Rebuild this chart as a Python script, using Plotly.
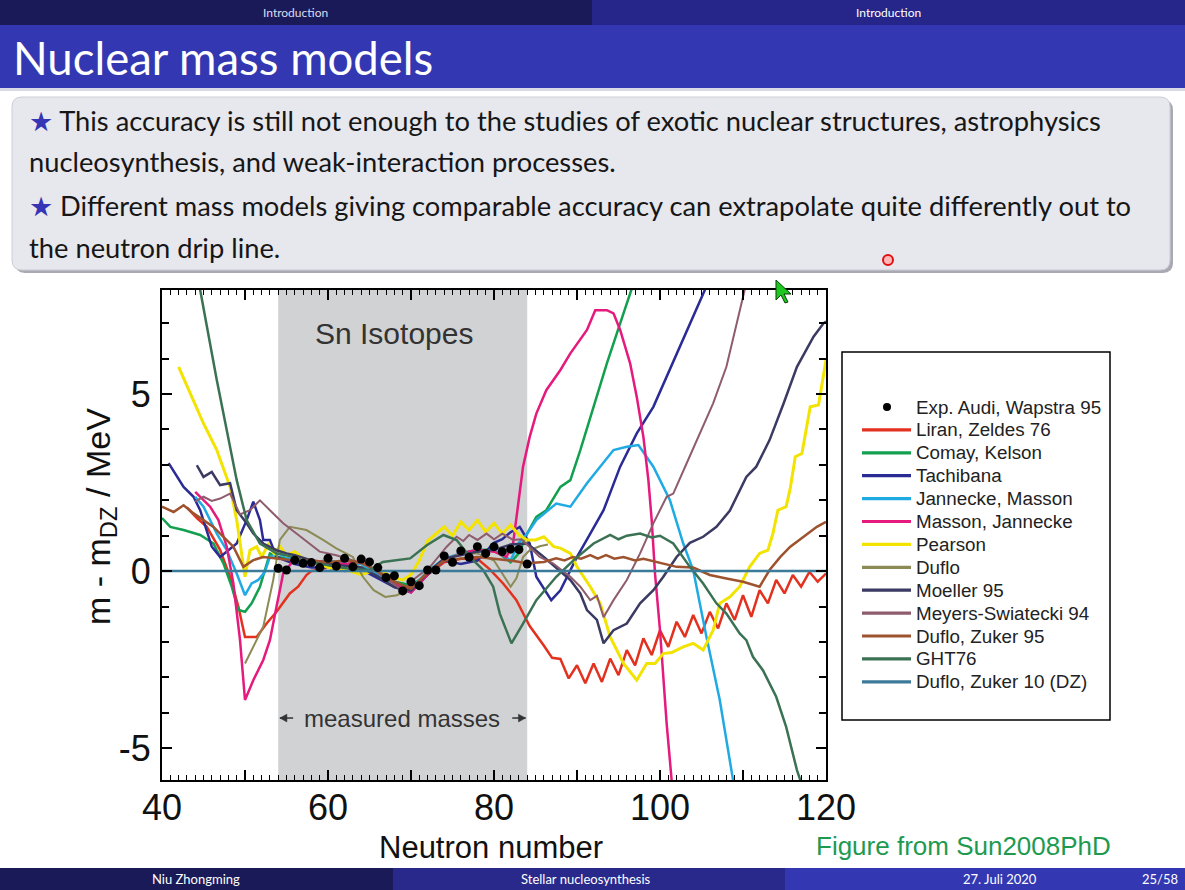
import plotly.graph_objects as go

W, H = 1185, 890

# ---------------- data (Sn isotopes, m - m_DZ in MeV) ----------------
EXP_N = [54, 55, 56, 57, 58, 59, 60, 61, 62, 63, 64, 65, 66, 67, 68, 69, 70, 71, 72, 73,
         74, 75, 76, 77, 78, 79, 80, 81, 82, 83, 84]
EXP_DM = [0.08, 0.03, 0.31, 0.22, 0.24, 0.10, 0.36, 0.14, 0.36, 0.12, 0.34, 0.26, 0.10, -0.18,
          -0.13, -0.56, -0.30, -0.41, 0.03, 0.03, 0.43, 0.25, 0.57, 0.39, 0.69, 0.50, 0.69, 0.55,
          0.62, 0.61, 0.20]

LIRAN = [(43, 1.8), (44.2, 1.5), (45.4, 1.25), (47, 0.6), (48.2, -0.16), (49.2, -1.0), (50, -1.86),
         (51.4, -1.86), (52.6, -1.48), (53.8, -1.15), (55.4, -0.63), (56.4, -0.44), (57.4, -0.11),
         (58, 0.0), (60, 0.1), (62, 0.2), (64, 0.1), (66, -0.05), (68, -0.3), (70, -0.45), (72, -0.1),
         (74, 0.25), (76, 0.35), (78, 0.35), (79.5, 0.05), (81.1, -0.35), (82.7, -0.82), (84.3, -1.55),
         (86, -2.1), (87, -2.45), (88, -2.48), (89, -3.03), (90, -2.66), (91, -3.17), (92, -2.61),
         (93, -3.13), (94, -2.47), (95, -2.94), (96, -2.23), (97, -2.66), (98, -1.90), (99, -2.37),
         (100, -1.67), (101, -2.14), (102, -1.43), (103, -1.86), (104, -1.24), (105, -1.76),
         (106, -1.15), (107, -1.62), (108, -0.91), (109, -1.38), (110, -0.68), (111, -1.29),
         (112, -0.54), (113, -0.91), (114, -0.25), (115, -0.63), (116, -0.11), (117, -0.44),
         (118, -0.02), (119, -0.30), (120, -0.07)]

COMAY = [(40, 1.5), (41, 1.25), (42.6, 1.16), (44.6, 1.02), (46.2, 0.78), (47.4, 0.22), (48.4, -0.44),
         (49.2, -1.1), (50, -1.15), (50.8, -0.91), (51.8, -0.44), (52.6, 0.22), (53, 0.5), (54, 0.4),
         (56, 0.3), (58, 0.25), (60, 0.3), (62, 0.2), (64, 0.1), (66, 0.0), (68, -0.3), (70, -0.4),
         (72, -0.1), (74, 0.3), (76, 0.5), (78, 0.6), (80, 0.6), (82, 0.25), (83, 0.5), (84, 1.06),
         (85.1, 1.53), (86.3, 1.72), (88, 2.38), (89.2, 2.57), (90.4, 3.42), (92, 4.64), (93.6, 5.87),
         (95.2, 7.0), (96.6, 7.94), (97.2, 8.4)]

TACHIBANA = [(40.8, 3.05), (42.6, 2.38), (43.8, 2.1), (44.6, 1.72), (46, 0.69), (47, 0.4), (48, 0.59),
             (49, 0.78), (50.2, 1.44), (51, 1.96), (51.8, 1.44), (52.2, 0.88), (53, 0.88), (53.8, 0.4),
             (56, 0.2), (58, 0.1), (60, 0.1), (62, 0.0), (64, 0.05), (66, -0.2), (68, -0.45),
             (70, -0.6), (72, -0.1), (74, 0.3), (76, 0.2), (78, 0.3), (80, 0.8), (81, 0.9), (82, 1.1),
             (83.1, 1.25), (84.3, 0.78), (85.1, -0.16), (86.9, -0.82), (88, -0.54), (90, 0.4),
             (91.6, 1.06), (93.2, 1.72), (95.2, 2.95), (97.2, 3.89), (99.2, 4.64), (100.8, 5.49),
             (102.4, 6.34), (104, 7.18), (105.4, 7.94), (106, 8.4)]

JANNECKE = [(44, 2.1), (45, 1.82), (46.6, 1.06), (47.8, 0.59), (49, -0.07), (50, -0.68), (50.8, -0.35),
            (51.6, -0.25), (52.4, -0.02), (53, 0.4), (54, 0.5), (56, 0.3), (58, 0.2), (60, 0.3),
            (62, 0.2), (64, 0.2), (66, -0.1), (68, -0.35), (70, -0.5), (72, 0.0), (74, 0.35),
            (76, 0.5), (78, 0.55), (80, 0.6), (82, 0.3), (83, 0.8), (84, 1.06), (85.1, 1.44),
            (87.5, 1.91), (89.2, 1.82), (91.2, 2.48), (92.8, 2.95), (94.4, 3.42), (96, 3.51),
            (97.4, 3.56), (99.2, 2.95), (101.2, 2.0), (102.8, 0.78), (104, 0.03), (105.6, -1.86),
            (107.2, -3.64), (108.8, -5.9), (109.2, -6.5)]

MASSON = [(44, 2.24), (45.8, 1.82), (46.8, 1.44), (47.8, 0.69), (48.6, -0.35), (49.4, -1.95),
          (50, -3.64), (51, -3.08), (52.2, -2.51), (53, -1.95), (53.8, -1.0), (54.6, -0.07),
          (56, 0.35), (58, 0.3), (60, 0.25), (62, 0.2), (64, 0.25), (66, 0.0), (68, -0.35),
          (70, -0.6), (72, -0.1), (74, 0.3), (76, 0.5), (78, 0.6), (80, 0.55), (81.5, 0.4),
          (82.3, 0.78), (82.9, 1.82), (83.5, 2.95), (84.3, 3.79), (85.1, 4.45), (86.3, 5.11),
          (88, 5.68), (89.2, 6.15), (90.4, 6.53), (91.2, 6.81), (92.2, 7.37), (93.6, 7.37),
          (94.4, 7.28), (95.2, 6.81), (96.4, 5.87), (97.2, 4.92), (98, 3.79), (98.6, 2.57),
          (99, 1.44), (99.4, -0.07), (100, -1.67), (100.8, -4.3), (101.4, -5.9), (101.6, -6.5)]

PEARSON = [(42, 5.77), (43.4, 5.02), (45, 4.17), (46.6, 3.42), (48.2, 2.38), (49, 1.44), (50, -0.16),
           (50.6, 0.59), (51.4, 0.69), (52, 0.4), (52.8, 0.75), (53.5, 0.5), (54.2, 0.7), (55, 0.45),
           (56, 0.55), (57, 0.36), (58, 0.3), (60, 0.1), (62, 0.05), (64, -0.1), (66, 0.05),
           (68, -0.2), (69, -0.25), (70, -0.1), (71, 0.3), (72, 0.85), (73, 1.06), (74, 1.25),
           (75, 1.0), (76, 1.39), (77, 1.16), (78, 1.44), (79, 1.11), (80, 1.35), (81, 1.06),
           (82, 1.3), (83, 1.02), (84, 0.88), (85, 0.88), (86, 0.97), (87.2, 0.69), (88, 0.65),
           (89.2, 0.5), (90, 0.12), (90.8, -0.16), (91.6, -0.44), (92.8, -0.91), (94, -1.86),
           (95.6, -2.61), (97.2, -3.08), (98.4, -2.61), (99.4, -2.61), (100.4, -2.33), (101.4, -2.3),
           (102.8, -2.14), (104, -2.04), (105.2, -2.23), (106.4, -1.67), (107.2, -0.91),
           (108.4, -0.73), (109.6, -0.44), (110.8, 0.12), (112, 0.5), (113, 0.59), (113.6, 1.06),
           (114.2, 1.72), (115.2, 1.82), (115.7, 2.35), (116.3, 3.23), (117.1, 3.32), (118.1, 4.64),
           (119.1, 4.69), (120, 5.96)]

DUFLO = [(50, -2.61), (51, -2.14), (52.2, -1.57), (53.4, -0.25), (54.2, 0.88), (55.4, 1.25),
         (57.4, 1.16), (59.4, 0.88), (61, 0.64), (63, 0.4), (64.2, -0.16), (65.5, -0.54),
         (66.9, -0.73), (68.3, -0.68), (70.3, -0.44), (72, 0.0), (74, 0.3), (76, 0.5), (78, 0.5),
         (80, 0.3), (80.7, 0.03), (82, -0.44), (82.7, -0.2), (83.5, 0.4), (84.3, 0.59), (85.5, 0.7),
         (86.5, 0.75)]

MOELLER = [(44.2, 2.99), (45, 2.66), (46, 2.8), (47, 2.43), (48.2, 2.48), (49, 1.72), (50.2, 1.35),
           (51, 1.06), (52.2, 0.78), (53.8, 0.59), (55, 0.5), (56, 0.45), (58, 0.3), (60, 0.2),
           (62, 0.15), (64, 0.1), (66, -0.15), (68, -0.45), (70, -0.55), (72, -0.05), (74, 0.35),
           (76, 0.45), (78, 0.55), (80, 0.6), (82, 0.75), (84, 0.78), (86, 0.4), (89.2, -0.25),
           (90.4, -0.63), (91.2, -1.1), (92.4, -1.38), (93.2, -2.04), (94.4, -1.67), (96, -1.48),
           (97.6, -0.91), (99.2, -0.54), (100.4, -0.16), (102, 0.4), (103.6, 0.8), (105.2, 0.97),
           (106.8, 1.25), (108.4, 1.7), (109.6, 2.29), (110.4, 2.66), (111.6, 2.95), (113.2, 3.7),
           (114.9, 4.74), (116.5, 5.77), (118.5, 6.62), (119.7, 7.0), (120, 7.05)]

MEYERS = [(44, 1.96), (45, 2.1), (46, 1.98), (47, 2.05), (48.2, 2.19), (49.4, 1.6), (50.6, 1.72),
          (51.8, 2.0), (53, 1.72), (54.6, 1.35), (56.2, 1.06), (57.8, 0.78), (59, 0.55), (61, 0.45),
          (63, 0.3), (65, 0.12), (67, -0.2), (69, -0.54), (70.5, -0.2), (72.3, 0.12), (74.3, 0.69),
          (75.5, 0.97), (76.3, 0.85), (77, 1.02), (78, 0.88), (79.1, 1.06), (80, 0.9), (81, 1.06),
          (82.3, 0.88), (83.3, 0.9), (84.7, 0.59), (85.5, 0.4), (87.1, 0.22), (89.2, -0.16),
          (90.4, -0.44), (91.6, -0.82), (92.4, -0.7), (93.2, -1.3), (94.4, -0.82), (96, -0.25),
          (97.6, 0.5), (99.2, 1.35), (100.8, 2.1), (101.6, 2.19), (103.2, 3.04), (104.8, 3.89),
          (106.4, 4.74), (108, 5.77), (109.2, 7.0), (110.2, 7.94), (110.5, 8.4)]

DZ95 = [(40, 1.82), (41.4, 1.67), (42.6, 1.86), (43.8, 1.63), (45, 1.44), (46.2, 1.25), (47.4, 0.97),
        (48.6, 0.69), (49.8, 0.12), (51, 0.31), (52.2, 0.4), (54, 0.35), (56, 0.3), (58, 0.3),
        (60, 0.25), (62, 0.3), (64, 0.25), (66, 0.0), (68, -0.3), (70, -0.5), (72, -0.05), (74, 0.3),
        (76, 0.35), (78, 0.4), (80, 0.35), (82, 0.3), (84, 0.22), (86, 0.26), (87.5, 0.36),
        (88.5, 0.3), (89.5, 0.4), (90.5, 0.35), (91.6, 0.45), (92.5, 0.35), (93.5, 0.45),
        (94.5, 0.35), (95.6, 0.4), (97, 0.3), (98, 0.35), (99.6, 0.26), (102, 0.12), (104, 0.1),
        (106, -0.11), (108, -0.21), (110, -0.3), (112, -0.44), (113.2, 0.03), (114.5, 0.4),
        (115.7, 0.69), (117.3, 0.97), (118.9, 1.25), (120, 1.39)]

GHT76 = [(44, 9.0), (44.6, 7.94), (46.6, 5.4), (47.8, 3.98), (49, 2.57), (50.2, 1.44), (51.8, 0.78),
         (53.8, 0.5), (55, 0.45), (57, 0.3), (59, 0.2), (61, 0.12), (63, 0.05), (65, 0.03),
         (66.6, 0.26), (69.9, 0.36), (71.9, 0.73), (73.9, 1.02), (75.5, 0.88), (77.1, 0.4),
         (78.7, 0.03), (79.9, -0.44), (80.7, -1.2), (82.1, -2.04), (83.5, -1.48), (85.1, -0.82),
         (87.5, -0.16), (89.6, 0.31), (92, 0.78), (93, 0.9), (94, 1.02), (95, 0.9), (96, 1.0),
         (97.6, 1.06), (99, 0.95), (100, 1.0), (101.6, 0.78), (103.6, 0.12), (105.2, -0.35),
         (106.8, -0.91), (108, -1.2), (109.6, -1.76), (110.4, -1.95), (111.2, -2.42),
         (112.4, -2.8), (114, -3.55), (115.2, -4.4), (116.5, -5.62), (116.9, -5.9), (117.2, -6.5)]

DZ10 = [(40, 0.0), (120, 0.0)]

EXP_NAME = "Exp. Audi, Wapstra 95"
SERIES = [
    ("Liran, Zeldes 76", LIRAN, "#e3311f", 2.5),
    ("Comay, Kelson", COMAY, "#12a04e", 2.5),
    ("Tachibana", TACHIBANA, "#2b2b95", 2.5),
    ("Jannecke, Masson", JANNECKE, "#1faae3", 2.5),
    ("Masson, Jannecke", MASSON, "#e6197c", 2.5),
    ("Pearson", PEARSON, "#f3e300", 3.0),
    ("Duflo", DUFLO, "#8c8a55", 2.0),
    ("Moeller 95", MOELLER, "#3a3a62", 2.5),
    ("Meyers-Swiatecki 94", MEYERS, "#8e5c6c", 2.0),
    ("Duflo, Zuker 95", DZ95, "#9e522e", 2.5),
    ("GHT76", GHT76, "#3b7253", 2.5),
    ("Duflo, Zuker 10 (DZ)", DZ10, "#3b7a98", 2.5),
]

ARIAL = "Liberation Sans, Arial, sans-serif"
SLIDE = "Lato, Open Sans, sans-serif"


def P(x, y):
    return f"{x / W:.5f},{1 - y / H:.5f}"


def rrect(x0, y0, x1, y1, r):
    return ("M" + P(x0 + r, y0) + " L" + P(x1 - r, y0) + " Q" + P(x1, y0) + " " + P(x1, y0 + r) +
            " L" + P(x1, y1 - r) + " Q" + P(x1, y1) + " " + P(x1 - r, y1) +
            " L" + P(x0 + r, y1) + " Q" + P(x0, y1) + " " + P(x0, y1 - r) +
            " L" + P(x0, y0 + r) + " Q" + P(x0, y0) + " " + P(x0 + r, y0) + " Z")


fig = go.Figure()

for name, pts, color, width in SERIES:
    fig.add_trace(go.Scatter(
        x=[p[0] for p in pts], y=[p[1] for p in pts], mode="lines", name=name,
        line=dict(color=color, width=width)))

fig.add_trace(go.Scatter(
    x=EXP_N, y=EXP_DM, mode="markers", name=EXP_NAME,
    marker=dict(color="black", size=9)))

shapes = []
ann = []


def prect(x0, y0, x1, y1, color, layer="below"):
    shapes.append(dict(type="rect", xref="paper", yref="paper", x0=x0 / W, x1=x1 / W,
                       y0=1 - y1 / H, y1=1 - y0 / H, fillcolor=color, line=dict(width=0),
                       layer=layer))


def ptext(x, y, text, size, color, family=SLIDE, xanchor="center", **kw):
    ann.append(dict(xref="paper", yref="paper", x=x / W, y=1 - y / H, text=text, showarrow=False,
                    xanchor=xanchor, yanchor="middle", font=dict(size=size, color=color,
                                                                   family=family), **kw))


# header
prect(0, 0, 592, 25, "#1a1a58")
prect(592, 0, W, 25, "#25258a")
prect(0, 25, W, 88, "#3338b2")
prect(0, 88, W, 91, "#d9d9e6")
# footer
prect(0, 868, 393, H, "#1a1a58")
prect(393, 868, 785, H, "#29298c")
prect(785, 868, W, H, "#3338b2")

# text box with shadow
shapes.append(dict(type="path", xref="paper", yref="paper", path=rrect(15, 100, 1173, 273, 10),
                   fillcolor="#a9a9b3", line=dict(width=0), layer="below"))
shapes.append(dict(type="path", xref="paper", yref="paper", path=rrect(12, 97, 1170, 270, 10),
                   fillcolor="#e7e7ee", line=dict(color="#cdcdd6", width=1), layer="below"))

# shaded "measured masses" region
shapes.append(dict(type="rect", xref="x", yref="y domain", x0=54, x1=84, y0=0, y1=1,
                   fillcolor="#d1d2d4", line=dict(width=0), layer="below"))

# arrows of the "measured masses" label (line + filled head, in axis units)
ARROW_Y = -4.15
for head, tail, d in ((54.2, 55.8, 1), (83.8, 82.2, -1)):
    shapes.append(dict(type="line", xref="x", yref="y", x0=tail, x1=head, y0=ARROW_Y, y1=ARROW_Y,
                       line=dict(color="#333333", width=1.5), layer="above"))
    base = head + d * 0.85
    shapes.append(dict(type="path", xref="x", yref="y",
                       path=f"M{head},{ARROW_Y} L{base},{ARROW_Y + 0.11} L{base},{ARROW_Y - 0.11} Z",
                       fillcolor="#333333", line=dict(color="#333333", width=0.5), layer="above"))

# legend frame and entries (key drawn beside the plot, as in the original figure)
shapes.append(dict(type="rect", xref="paper", yref="paper", x0=842 / W, x1=1110 / W,
                   y0=1 - 720 / H, y1=1 - 352 / H, fillcolor="white",
                   line=dict(color="black", width=1.5), layer="below"))
LEG_Y0, LEG_DY = 407, 22.9
shapes.append(dict(type="circle", xref="paper", yref="paper", x0=883 / W, x1=891 / W,
                   y0=1 - (LEG_Y0 + 4) / H, y1=1 - (LEG_Y0 - 4) / H, fillcolor="black",
                   line=dict(width=0), layer="above"))
ptext(914, LEG_Y0, EXP_NAME, 18.8, "#222222", family=ARIAL, xanchor="left")
for i, (name, pts, color, width) in enumerate(SERIES, start=1):
    yy = LEG_Y0 + i * LEG_DY
    shapes.append(dict(type="line", xref="paper", yref="paper", x0=862 / W, x1=911 / W,
                       y0=1 - yy / H, y1=1 - yy / H, line=dict(color=color, width=3.2),
                       layer="above"))
    ptext(914, yy, name, 18.8, "#222222", family=ARIAL, xanchor="left")

# laser pointer dot and mouse cursor
shapes.append(dict(type="circle", xref="paper", yref="paper", x0=883 / W, x1=893 / W,
                   y0=1 - 265 / H, y1=1 - 255 / H, fillcolor="#ffb8b8",
                   line=dict(color="#e01010", width=2), layer="above"))
cur = [(0, 0), (0, 20), (5, 15), (9, 23), (12, 22), (8, 14), (15, 14)]
cpath = "M" + " L".join(P(776 + a, 280 + b) for a, b in cur) + " Z"
shapes.append(dict(type="path", xref="paper", yref="paper", path=cpath, fillcolor="#1fc81f",
                   line=dict(color="#0a400a", width=1), layer="above"))

ptext(295, 13, "Introduction", 12, "#dcdcf0")
ptext(888, 13, "Introduction", 12, "white")
ptext(11, 58, "Nuclear mass models", 45.5, "white", xanchor="left")
star = '<span style="color:#3535b5">★</span> '
ptext(27, 120, star + "This accuracy is still not enough to the studies of exotic nuclear "
      "structures, astrophysics", 27.3, "#161616", xanchor="left")
ptext(27, 162, "nucleosynthesis, and weak-interaction processes.", 27.3, "#161616",
      xanchor="left")
ptext(27, 205, star + "Different mass models giving comparable accuracy can extrapolate quite "
      "differently out to", 27.3, "#161616", xanchor="left")
ptext(27, 247, "the neutron drip line.", 27.3, "#161616", xanchor="left")

ptext(196, 879, "Niu Zhongming", 13, "white")
ptext(586, 879, "Stellar nucleosynthesis", 13, "white")
ptext(1000, 879, "27. Juli 2020", 13, "white")
ptext(1160, 879, "25/58", 13, "white")

# chart labels
ptext(491, 847, "Neutron number", 31, "#111111", family=ARIAL)
ptext(100, 517, "m - m<sub>DZ</sub> / MeV", 34, "#111111", family=ARIAL, textangle=-90)
ptext(963, 846, "Figure from Sun2008PhD", 26, "#1e9a50", family=ARIAL)

ann.append(dict(xref="x", yref="y", x=68, y=6.72, text="Sn Isotopes", showarrow=False,
                font=dict(size=30, color="#333333", family=ARIAL)))
ann.append(dict(xref="x", yref="y", x=68.95, y=-4.15, text="measured masses", showarrow=False,
                font=dict(size=24, color="#333333", family=ARIAL)))

fig.update_layout(
    width=W, height=H, margin=dict(l=0, r=0, t=0, b=0, autoexpand=False),
    paper_bgcolor="white", plot_bgcolor="white",
    shapes=shapes, annotations=ann,
    showlegend=False,
    xaxis=dict(domain=[162 / W, 826 / W], range=[40, 120], automargin=False,
               tickvals=[40, 50, 60, 70, 80, 90, 100, 110, 120],
               ticktext=["40", " ", "60", " ", "80", " ", "100", " ", "120"],
               ticks="inside", ticklen=10, tickwidth=2, tickcolor="black",
               minor=dict(dtick=1, ticks="inside", ticklen=5, tickwidth=1.2, tickcolor="black"),
               showline=True, linecolor="black", linewidth=2, mirror="ticks",
               showgrid=False, zeroline=False, ticklabelstandoff=-5,
               tickfont=dict(size=36, color="#111111", family=ARIAL)),
    yaxis=dict(domain=[1 - 780 / H, 1 - 290 / H], range=[-5.9, 7.94], automargin=False,
               tickvals=[-5, 0, 5], ticktext=["-5", "0", "5"],
               ticks="inside", ticklen=10, tickwidth=2, tickcolor="black",
               minor=dict(dtick=1, ticks="inside", ticklen=7, tickwidth=1.5, tickcolor="black"),
               showline=True, linecolor="black", linewidth=2, mirror="ticks",
               showgrid=False, zeroline=False, ticklabelstandoff=2,
               tickfont=dict(size=36, color="#111111", family=ARIAL)),
)

fig.write_html("out.html")
